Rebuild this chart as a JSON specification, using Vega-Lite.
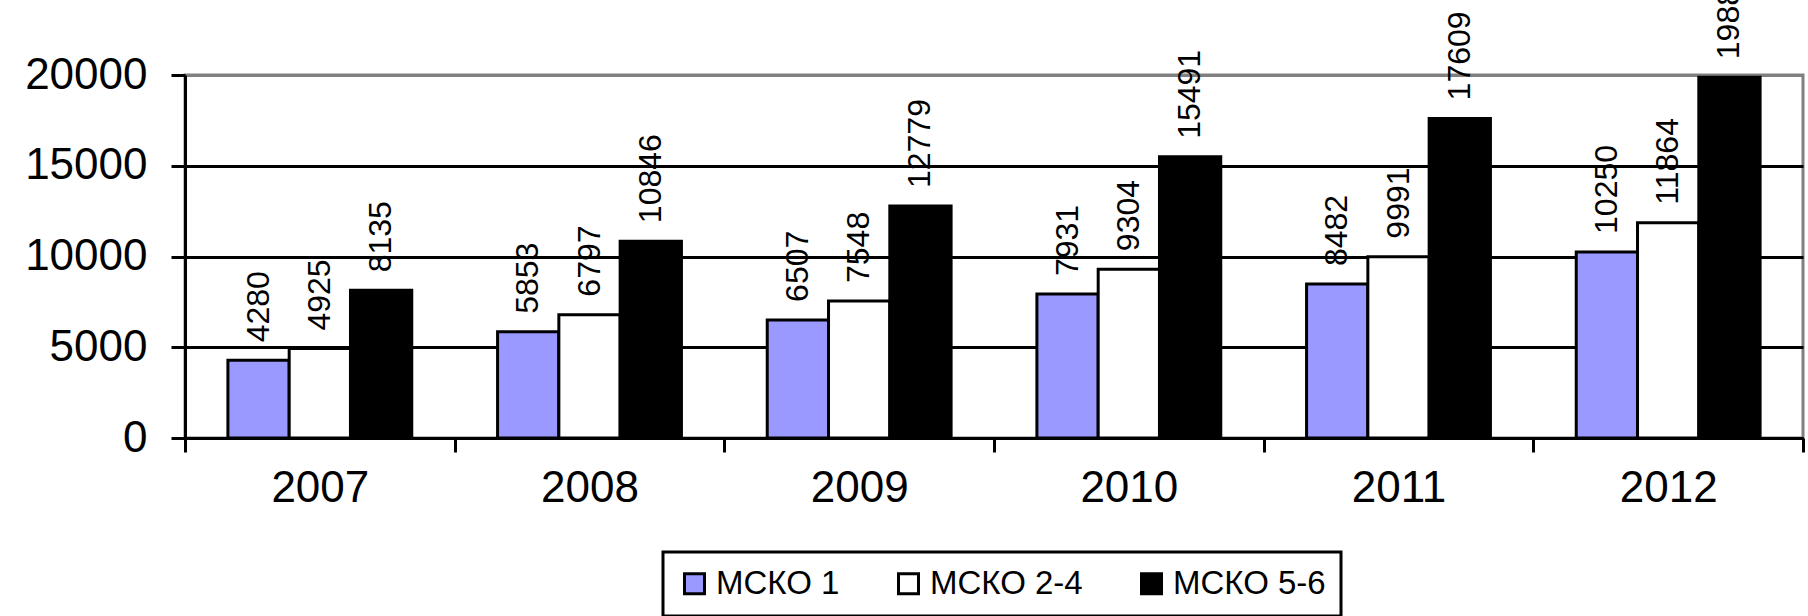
{
  "$schema": "https://vega.github.io/schema/vega-lite/v6.json",
  "width": 1618,
  "height": 363,
  "autosize": {"type": "none"},
  "padding": {"left": 185, "top": 75, "right": 5, "bottom": 178},
  "background": "white",
  "config": {"view": {"stroke": "#808080", "strokeWidth": 3}, "font": "Liberation Sans"},
  "data": {"values": [
    {"year": "2007", "group": "МСКО 1", "value": 4280},
    {"year": "2007", "group": "МСКО 2-4", "value": 4925},
    {"year": "2007", "group": "МСКО 5-6", "value": 8135},
    {"year": "2008", "group": "МСКО 1", "value": 5853},
    {"year": "2008", "group": "МСКО 2-4", "value": 6797},
    {"year": "2008", "group": "МСКО 5-6", "value": 10846},
    {"year": "2009", "group": "МСКО 1", "value": 6507},
    {"year": "2009", "group": "МСКО 2-4", "value": 7548},
    {"year": "2009", "group": "МСКО 5-6", "value": 12779},
    {"year": "2010", "group": "МСКО 1", "value": 7931},
    {"year": "2010", "group": "МСКО 2-4", "value": 9304},
    {"year": "2010", "group": "МСКО 5-6", "value": 15491},
    {"year": "2011", "group": "МСКО 1", "value": 8482},
    {"year": "2011", "group": "МСКО 2-4", "value": 9991},
    {"year": "2011", "group": "МСКО 5-6", "value": 17609},
    {"year": "2012", "group": "МСКО 1", "value": 10250},
    {"year": "2012", "group": "МСКО 2-4", "value": 11864},
    {"year": "2012", "group": "МСКО 5-6", "value": 19880}
  ]},
  "encoding": {
    "x": {
      "field": "year", "type": "nominal",
      "scale": {"paddingInner": 0, "paddingOuter": 0},
      "axis": {
        "title": null, "labelAngle": 0, "labelFontSize": 44, "labelColor": "black",
        "labelPadding": 14, "tickBand": "extent", "tickSize": 14, "tickWidth": 3,
        "tickColor": "black", "domainColor": "black", "domainWidth": 3, "grid": false
      }
    },
    "xOffset": {
      "field": "group", "type": "nominal",
      "sort": ["МСКО 1", "МСКО 2-4", "МСКО 5-6"],
      "scale": {"paddingInner": 0, "paddingOuter": 0.7}
    },
    "y": {
      "field": "value", "type": "quantitative",
      "scale": {"domain": [0, 20000], "nice": false},
      "axis": {
        "title": null, "values": [0, 5000, 10000, 15000, 20000], "format": "d",
        "labelFontSize": 44, "labelColor": "black", "labelPadding": 24,
        "tickSize": 14, "tickWidth": 3, "tickColor": "black",
        "domainColor": "black", "domainWidth": 3,
        "grid": true,
        "gridColor": {"condition": {"test": "datum.value === 20000", "value": "#808080"}, "value": "black"},
        "gridWidth": 3
      }
    }
  },
  "layer": [
    {
      "mark": {"type": "bar", "stroke": "black", "strokeWidth": 3},
      "encoding": {
        "color": {
          "field": "group", "type": "nominal",
          "scale": {"domain": ["МСКО 1", "МСКО 2-4", "МСКО 5-6"], "range": ["#9999FF", "#FFFFFF", "#000000"]},
          "legend": {
            "orient": "none", "legendX": 478, "legendY": 477, "direction": "horizontal",
            "title": null, "labelFontSize": 33, "labelColor": "black",
            "symbolType": "square", "symbolSize": 400,
            "symbolStrokeColor": "black", "symbolStrokeWidth": 3,
            "columnPadding": 52, "labelOffset": 5, "padding": 15,
            "strokeColor": "black",
            "encode": {"legend": {"update": {"strokeWidth": {"value": 3}}}}
          }
        }
      }
    },
    {
      "mark": {"type": "text", "angle": 270, "align": "left", "baseline": "middle", "dx": 18, "fontSize": 32, "color": "black"},
      "encoding": {
        "text": {"field": "value", "type": "quantitative", "format": "d"}
      }
    }
  ]
}
